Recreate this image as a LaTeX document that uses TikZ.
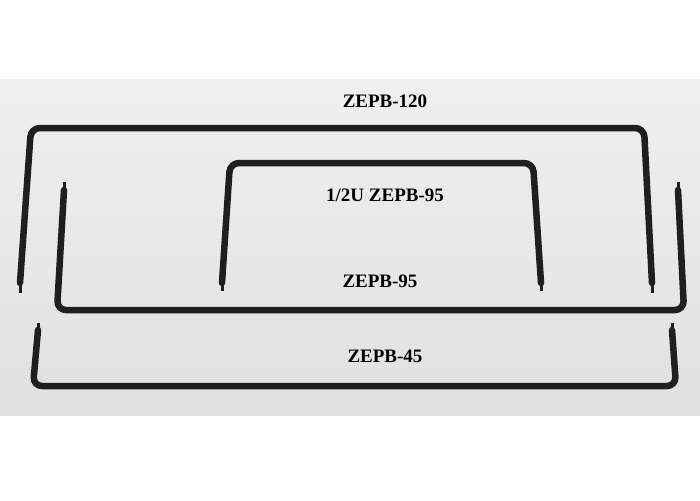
\documentclass[tikz,border=0pt]{standalone}
\usepackage{fontspec}
\setmainfont{Liberation Serif}
\tikzset{
  rod/.style={line width=6.5pt,draw=black!88,rounded corners=9pt,line cap=round},
  tip/.style={line width=3pt,draw=black!88},
  tag/.style={font=\fontsize{19}{22}\selectfont\bfseries}
}
\begin{document}
\begin{tikzpicture}[x=1pt,y=-1pt]
    \useasboundingbox (0,0) rectangle (700,500);
    \fill[white] (0,0) rectangle (700,500);
    \shade[top color=black!6,bottom color=black!12] (0,80) rectangle (700,415);

    % ZEPB-120
    \draw[rod] (20,283) -- (31,128) -- (644,128) -- (652,283);
    \draw[tip] (20,283) -- (20,293);
    \draw[tip] (652,283) -- (652,293);

    % 1/2U ZEPB-95
    \draw[rod] (222,283) -- (230,163) -- (533,163) -- (541,283);
    \draw[tip] (222,283) -- (222,291);
    \draw[tip] (541,283) -- (541,291);

    % ZEPB-95
    \draw[rod] (64,190) -- (57,310) -- (684,310) -- (678,190);
    \draw[tip] (64,190) -- (64,182);
    \draw[tip] (678,190) -- (678,182);

    % ZEPB-45
    \draw[rod] (38,330) -- (33,386) -- (676,386) -- (672,330);
    \draw[tip] (38,330) -- (38,323);
    \draw[tip] (672,330) -- (672,323);

    \node[tag] (l120) at (385,101) {ZEPB-120};
    \node[tag] (l95h) at (385,195) {1/2U ZEPB-95};
    \node[tag] (l95) at (380,281) {ZEPB-95};
    \node[tag] (l45) at (385,356) {ZEPB-45};
\end{tikzpicture}
\end{document}
